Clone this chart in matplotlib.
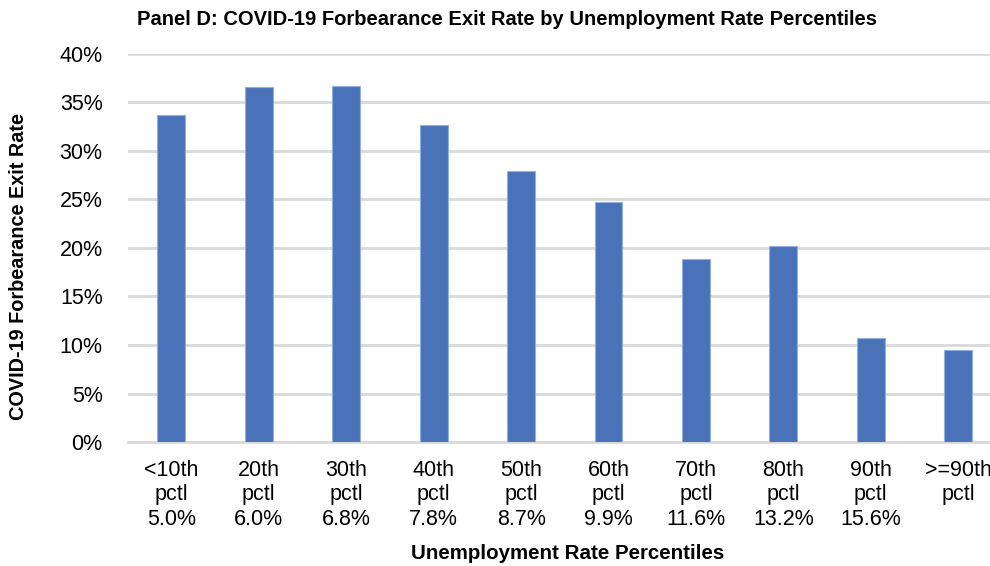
import matplotlib
matplotlib.use("Agg")
import matplotlib.pyplot as plt

plt.rcParams['font.family'] = ['Liberation Sans', 'DejaVu Sans']

categories = ['<10th\npctl\n5.0%', '20th\npctl\n6.0%', '30th\npctl\n6.8%', '40th\npctl\n7.8%',
              '50th\npctl\n8.7%', '60th\npctl\n9.9%', '70th\npctl\n11.6%', '80th\npctl\n13.2%',
              '90th\npctl\n15.6%', '>=90th\npctl']
exit_rate = [33.7, 36.6, 36.7, 32.7, 27.9, 24.7, 18.9, 20.2, 10.7, 9.5]
yticks = [0, 5, 10, 15, 20, 25, 30, 35, 40]

fig = plt.figure(figsize=(9.9, 5.66), dpi=100)
ax = fig.add_axes([0.129, 0.219, 0.883, 0.686])

x = range(len(categories))
ax.bar(x, exit_rate, width=0.32, color='#4a72b8', edgecolor='#8fb0e0', linewidth=0.8, zorder=3)

ax.set_ylim(0, 40)
ax.set_xlim(-0.5, len(categories) - 0.5)
ax.set_yticks(yticks)
ax.set_yticklabels([f'{t}%' for t in yticks], fontsize=15.5)
ax.set_xticks(list(x))
ax.set_xticklabels(categories, fontsize=15.5, linespacing=1.2)
ax.tick_params(length=0)
ax.tick_params(axis='x', pad=13)
ax.tick_params(axis='y', pad=18)
ax.grid(axis='y', color='#d9d9d9', linewidth=2, zorder=0)
for s in ['top', 'right', 'left']:
    ax.spines[s].set_visible(False)
ax.spines['bottom'].set_color('#d9d9d9')
ax.spines['bottom'].set_linewidth(2)

fig.text(0.512, 0.966, 'Panel D: COVID-19 Forbearance Exit Rate by Unemployment Rate Percentiles',
         ha='center', va='center', fontsize=14.5, fontweight='bold')
fig.text(0.573, 0.022, 'Unemployment Rate Percentiles', ha='center', va='center',
         fontsize=14.8, fontweight='bold')
fig.text(0.019, 0.53, 'COVID-19 Forbearance Exit Rate', ha='center', va='center',
         rotation=90, fontsize=14.3, fontweight='bold')

fig.savefig('out.png', dpi=100)
